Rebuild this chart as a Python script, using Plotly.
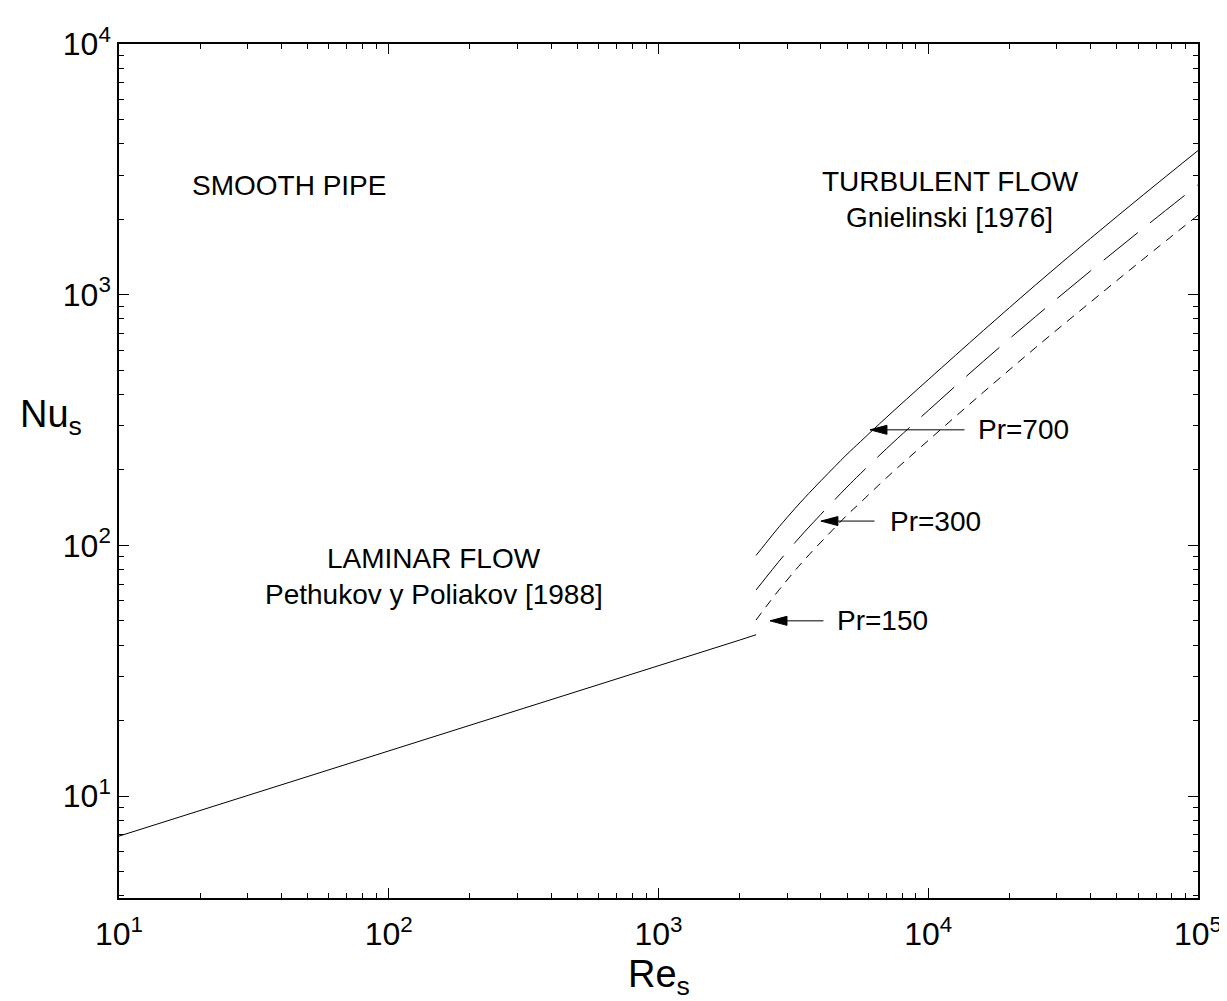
import math
import plotly.graph_objects as go

# ---------------- data ----------------
re_lam = [10, 20, 50, 100, 200, 500, 1000, 2000, 2300]
nu_lam = [6.92, 8.75, 12.0, 15.1, 19.1, 26.2, 33.1, 41.9, 44.0]

re_turb = [2300, 2500, 2800, 3200, 3500, 4000, 4500, 5000, 5600, 7000,
           10000, 16000, 25000, 40000, 63000, 100000]
nu_pr700 = [91.2, 102, 118.6, 140, 155.6, 181, 206, 231, 259, 324,
            458, 719, 1094, 1679, 2512, 3758]
nu_pr300 = [66.4, 74.3, 86.5, 102.3, 114, 133, 152, 171, 193, 243,
            345, 542, 818, 1245, 1849, 2742]
nu_pr150 = [50.4, 56.8, 66.5, 79.1, 88.3, 103, 117.5, 132, 148, 186,
            262, 408, 615, 935, 1393, 2075]

x_tickvals = [10, 100, 1000, 10000, 100000]
x_ticktext = ["10<sup>1</sup>", "10<sup>2</sup>", "10<sup>3</sup>",
              "10<sup>4</sup>", "10<sup>5</sup>"]
y_tickvals = [10, 100, 1000, 10000]
y_ticktext = ["10<sup>1</sup>", "10<sup>2</sup>", "10<sup>3</sup>",
              "10<sup>4</sup>"]

pr_labels = ["Pr=700", "Pr=300", "Pr=150"]
# arrow tip (Re, Nu), arrow tail Re, label left Re
arrow_tip = [(6080, 289), (4000, 125), (2590, 50)]
arrow_tail_re = [13800, 6400, 4140]
label_left_re = [15030, 7100, 4510]

FONT = "Liberation Sans, Arial, Helvetica, sans-serif"
L = math.log10

fig = go.Figure()
line = dict(color="black", width=1)
fig.add_trace(go.Scatter(x=re_lam, y=nu_lam, mode="lines", line=line))
fig.add_trace(go.Scatter(x=re_turb, y=nu_pr700, mode="lines", line=line,
                         line_shape="spline"))
fig.add_trace(go.Scatter(x=re_turb, y=nu_pr300, mode="lines", line_shape="spline",
                         line=dict(color="black", width=1, dash="44px,16px")))
fig.add_trace(go.Scatter(x=re_turb, y=nu_pr150, mode="lines", line_shape="spline",
                         line=dict(color="black", width=1, dash="9px,7px")))

# arrow heads as small filled triangles (long, narrow)
head_len = 0.063   # decades in x
head_half = 0.018  # decades in y
for (tre, tnu) in arrow_tip:
    lx, ly = L(tre), L(tnu)
    xs = [10 ** lx, 10 ** (lx + head_len), 10 ** (lx + head_len), 10 ** lx]
    ys = [10 ** ly, 10 ** (ly + head_half), 10 ** (ly - head_half), 10 ** ly]
    fig.add_trace(go.Scatter(x=xs, y=ys, mode="lines", fill="toself",
                             fillcolor="black", line=dict(color="black", width=1)))

annotations = []
for lab, (tre, tnu), tail, lft in zip(pr_labels, arrow_tip, arrow_tail_re, label_left_re):
    annotations.append(dict(x=L(tre) + head_len, y=L(tnu), ax=L(tail), ay=L(tnu),
                            xref="x", yref="y", axref="x", ayref="y",
                            text="", showarrow=True, arrowhead=0, arrowwidth=1,
                            arrowcolor="black", standoff=0))
    annotations.append(dict(x=L(lft), y=L(tnu), xref="x", yref="y", text=lab,
                            showarrow=False, xanchor="left", yanchor="middle",
                            font=dict(family=FONT, size=28, color="black")))

texts = [("SMOOTH PIPE", 10 ** 1.630, 10 ** 3.435),
         ("TURBULENT FLOW", 10 ** 4.084, 10 ** 3.451),
         ("Gnielinski [1976]", 10 ** 4.077, 10 ** 3.307),
         ("LAMINAR FLOW", 10 ** 2.168, 10 ** 1.946),
         ("Pethukov y Poliakov [1988]", 10 ** 2.168, 10 ** 1.806)]
for t, xv, yv in texts:
    annotations.append(dict(x=L(xv), y=L(yv), xref="x", yref="y", text=t,
                            showarrow=False, xanchor="center", yanchor="middle",
                            font=dict(family=FONT, size=28, color="black")))

# axis titles (horizontal, as in the original)
annotations.append(dict(x=-0.094, y=0.563, xref="paper", yref="paper",
                        text="Nu<sub>s</sub>", showarrow=False, xanchor="left",
                        yanchor="middle", font=dict(family=FONT, size=38, color="black")))
annotations.append(dict(x=0.5, y=-0.093, xref="paper", yref="paper",
                        text="Re<sub>s</sub>", showarrow=False, xanchor="center",
                        yanchor="middle", font=dict(family=FONT, size=38, color="black")))

axis_common = dict(showline=True, linecolor="black", linewidth=1.5, mirror="ticks",
                   ticks="inside", ticklen=10, tickwidth=1, tickcolor="black",
                   showgrid=False, zeroline=False,
                   tickfont=dict(family=FONT, size=32, color="black"),
                   minor=dict(ticks="inside", ticklen=5, tickwidth=1,
                              tickcolor="black", dtick="D1", showgrid=False))

fig.update_layout(
    width=1227, height=1001,
    margin=dict(l=111, r=37, t=36, b=111),
    paper_bgcolor="white", plot_bgcolor="white",
    showlegend=False,
    annotations=annotations,
    xaxis=dict(type="log", range=[1, 5], tickvals=x_tickvals, ticktext=x_ticktext,
               ticklabelstandoff=7, **axis_common),
    yaxis=dict(type="log", range=[math.log10(3.92), 4], tickvals=y_tickvals,
               ticktext=y_ticktext, **axis_common),
)

fig.write_html("out.html")
